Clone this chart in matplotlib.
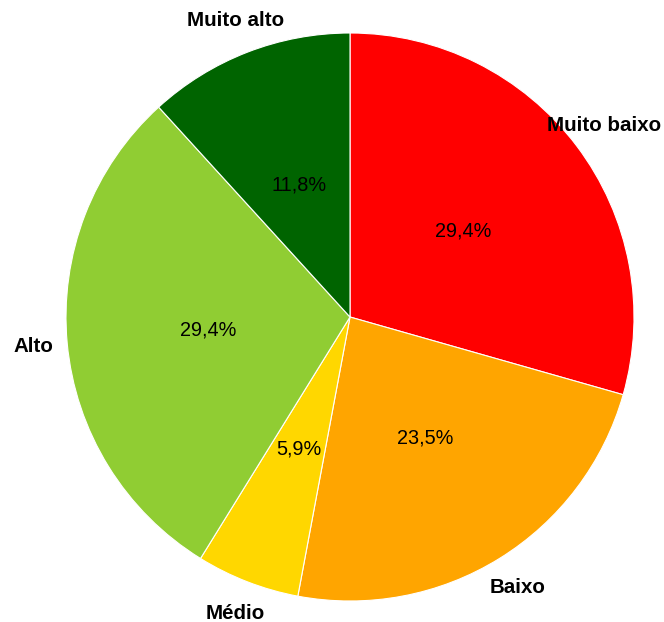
import matplotlib
matplotlib.use("Agg")
import matplotlib.pyplot as plt

# data
labels = ["Muito baixo", "Baixo", "Médio", "Alto", "Muito alto"]
counts = [5, 4, 1, 5, 2]
colors = ["#ff0000", "#ffa500", "#ffd700", "#90cd33", "#006400"]

plt.rcParams["font.family"] = ["Liberation Sans", "DejaVu Sans"]

W, H = 664, 622
cx, cy, R = 350, 317, 284  # pie centre / radius in pixels

fig = plt.figure(figsize=(W / 100, H / 100), dpi=100)
ax = fig.add_axes([0, 0, 1, 1])

wedges, texts, autotexts = ax.pie(
    counts,
    labels=labels,
    colors=colors,
    startangle=90,
    counterclock=False,
    labeldistance=1.12,
    pctdistance=0.5,
    autopct=lambda p: f"{p:.1f}%".replace(".", ","),
    wedgeprops=dict(edgecolor="white", linewidth=0.8),
    textprops=dict(fontsize=14.8),
)
for t in texts:
    t.set_fontweight("bold")
    t.set_horizontalalignment("center")
    t.set_verticalalignment("center")
for t in autotexts:
    t.set_fontsize(14.3)

ax.set_xlim(-cx / R, (W - cx) / R)
ax.set_ylim(-(H - cy) / R, cy / R)
ax.set_aspect("auto")
ax.axis("off")

fig.savefig("out.png", dpi=100, facecolor="white")
